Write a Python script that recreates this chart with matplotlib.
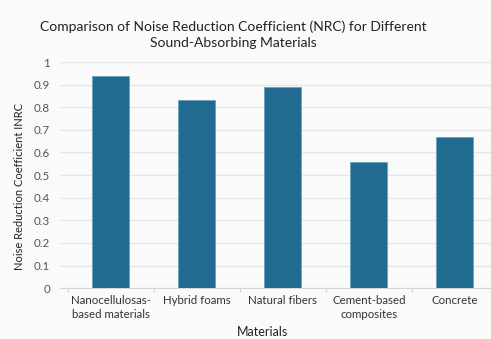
import matplotlib.pyplot as plt
import numpy as np

plt.rcParams['font.family'] = ['Lato', 'DejaVu Sans']

materials = ['Nanocellulosas-\nbased materials', 'Hybrid foams', 'Natural fibers',
             'Cement-based\ncomposites', 'Concrete']
nrc = [0.94, 0.83, 0.89, 0.56, 0.67]
yticks = [0, 0.1, 0.2, 0.3, 0.4, 0.5, 0.6, 0.7, 0.8, 0.9, 1]
ytick_labels = ['0', '0.1', '0.2', '0.3', '0.4', '0.5', '0.6', '0.7', '0.8', '0.9', '1']

bg = '#fafafa'
bar_color = '#216b90'

fig = plt.figure(figsize=(4.91, 3.39), dpi=100, facecolor=bg)
ax = fig.add_axes([0.122, 0.150, 0.878, 0.667], facecolor=bg)

x = np.arange(len(materials))
ax.bar(x, nrc, width=0.43, color=bar_color, edgecolor='#6aa2be', linewidth=0.6, zorder=3)

ax.set_xlim(-0.593, 4.42)
ax.set_ylim(0, 1)
ax.set_yticks(yticks)
ax.set_yticklabels(ytick_labels)
ax.grid(axis='y', color='#e6e6e6', linewidth=1.0, zorder=0)

ax.set_xticks(x)
ax.set_xticklabels(materials, fontsize=8.3, color='#333333', linespacing=1.35)
ax.set_xticks(np.arange(-0.5, 4.5, 1), minor=True)
ax.tick_params(axis='x', which='major', length=0, pad=5)
ax.tick_params(axis='x', which='minor', length=3, color='#d0d0d0')
ax.tick_params(axis='y', length=0, labelsize=8.3, labelcolor='#555555', pad=7)

for side in ['top', 'right', 'left']:
    ax.spines[side].set_visible(False)
ax.spines['bottom'].set_color('#d6d6d6')

ax.set_xlabel('Materials', fontsize=9, color='#222222')
ax.xaxis.set_label_coords(0.471, -0.168)
ax.set_ylabel('Noise Reduction Coefficient INRC', fontsize=8.0, color='#222222')
ax.yaxis.set_label_coords(-0.08, 0.45)

fig.text(0.475, 0.920, 'Comparison of Noise Reduction Coefficient (NRC) for Different',
         ha='center', va='center', fontsize=10, color='#222222')
fig.text(0.475, 0.872, 'Sound-Absorbing Materials',
         ha='center', va='center', fontsize=10, color='#222222')

fig.savefig('out.png', dpi=100, facecolor=bg)
